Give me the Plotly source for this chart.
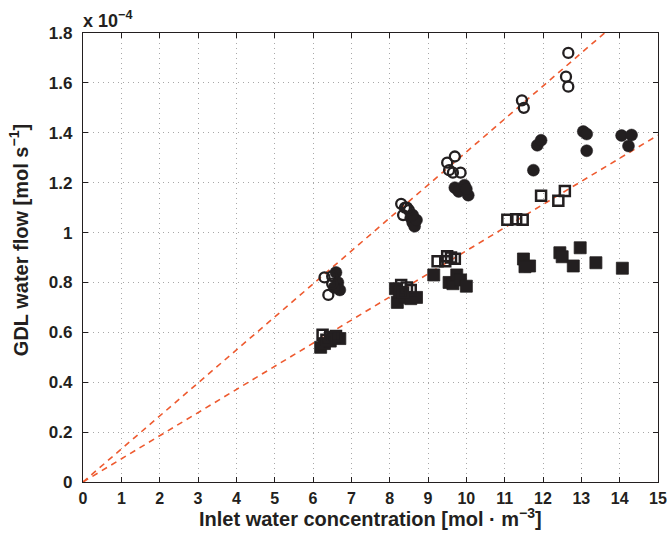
import plotly.graph_objects as go

# y values in units of 1e-4 mol/s
open_circle_x = [6.3, 6.5, 6.5, 6.4, 8.3, 8.35, 8.45, 8.5, 8.4, 9.5, 9.55, 9.7, 9.85, 9.65, 11.45, 11.5, 12.66, 12.6, 12.66]
open_circle_y = [0.82, 0.825, 0.795, 0.75, 1.115, 1.07, 1.10, 1.09, 1.10, 1.28, 1.25, 1.305, 1.24, 1.24, 1.53, 1.50, 1.72, 1.625, 1.585]

filled_circle_x = [6.6, 6.65, 6.7, 6.55, 8.55, 8.6, 8.65, 8.7, 8.6, 9.7, 9.8, 9.95, 10.05, 10.0, 11.85, 11.95, 11.75, 13.05, 13.14, 13.14, 14.05, 14.31, 14.23]
filled_circle_y = [0.84, 0.80, 0.77, 0.78, 1.06, 1.04, 1.025, 1.05, 1.07, 1.18, 1.165, 1.19, 1.15, 1.175, 1.35, 1.37, 1.25, 1.405, 1.395, 1.328, 1.389, 1.391, 1.347]

open_square_x = [6.25, 6.45, 6.6, 6.35, 8.3, 8.45, 8.55, 8.35, 9.25, 9.45, 9.5, 9.7, 9.6, 11.07, 11.3, 11.47, 11.95, 12.4, 12.57]
open_square_y = [0.59, 0.58, 0.585, 0.57, 0.79, 0.78, 0.77, 0.76, 0.885, 0.885, 0.905, 0.895, 0.90, 1.051, 1.053, 1.051, 1.148, 1.128, 1.167]

filled_square_x = [6.2, 6.3, 6.45, 6.7, 6.55, 8.15, 8.2, 8.4, 8.55, 8.7, 8.25, 9.15, 9.55, 9.65, 9.75, 9.85, 10.0, 11.49, 11.65, 11.53, 12.44, 12.5, 12.79, 12.97, 13.38, 14.07]
filled_square_y = [0.54, 0.555, 0.565, 0.575, 0.58, 0.775, 0.72, 0.74, 0.735, 0.74, 0.76, 0.83, 0.80, 0.795, 0.83, 0.81, 0.785, 0.894, 0.866, 0.863, 0.919, 0.903, 0.866, 0.939, 0.879, 0.857]

fit_slopes = [0.1323, 0.0927]
line_x = [0, 15]

x_ticks = list(range(0, 16))
y_ticks = [0, 0.2, 0.4, 0.6, 0.8, 1.0, 1.2, 1.4, 1.6, 1.8]
y_tick_labels = ["0", "0.2", "0.4", "0.6", "0.8", "1", "1.2", "1.4", "1.6", "1.8"]

x_title = "Inlet water concentration [mol · m<sup>−3</sup>]"
y_title = "GDL water flow [mol s<sup>−1</sup>]"
exponent_label = "x 10<sup>−4</sup>"

FONT = "Liberation Sans, Arial, sans-serif"
INK = "#231F20"

fig = go.Figure()

for s in fit_slopes:
    fig.add_trace(go.Scatter(x=line_x, y=[s * v for v in line_x], mode="lines",
                             line=dict(color="#EE5A2F", width=1.6, dash="6px,5px"),
                             showlegend=False, hoverinfo="skip"))

fig.add_trace(go.Scatter(x=filled_square_x, y=filled_square_y, mode="markers",
                         marker=dict(symbol="square", size=12, color=INK,
                                     line=dict(color=INK, width=0.8)), showlegend=False))
fig.add_trace(go.Scatter(x=open_square_x, y=open_square_y, mode="markers",
                         marker=dict(symbol="square-open", size=10, color=INK,
                                     line=dict(color=INK, width=2.5)), showlegend=False))
fig.add_trace(go.Scatter(x=filled_circle_x, y=filled_circle_y, mode="markers",
                         marker=dict(symbol="circle", size=12, color=INK,
                                     line=dict(color=INK, width=0.5)), showlegend=False))
fig.add_trace(go.Scatter(x=open_circle_x, y=open_circle_y, mode="markers",
                         marker=dict(symbol="circle-open", size=10, color=INK,
                                     line=dict(color=INK, width=2.3)), showlegend=False))

axis_common = dict(showline=True, linecolor=INK, linewidth=1.2, mirror="ticks",
                   ticks="inside", ticklen=5, tickcolor=INK, tickwidth=1,
                   showgrid=True, gridcolor="#a8a8a8", griddash="1px,4px", gridwidth=1.2,
                   zeroline=False, automargin=False)

fig.update_xaxes(range=[0, 15], tickvals=x_ticks, ticktext=["<b>%d</b>" % t for t in x_ticks],
                 ticklabelstandoff=2, tickfont=dict(family=FONT, size=16, color=INK),
                 **axis_common)
fig.update_yaxes(range=[0, 1.8], tickvals=y_ticks, ticktext=["<b>%s</b>" % t for t in y_tick_labels],
                 ticklabelstandoff=6, tickfont=dict(family=FONT, size=17, color=INK),
                 **axis_common)

fig.add_annotation(x=0.5, y=-0.078, xref="paper", yref="paper", xanchor="center", yanchor="middle",
                   text="<b>%s</b>" % x_title, showarrow=False,
                   font=dict(family=FONT, size=20, color=INK))
fig.add_annotation(x=-0.111, y=0.539, xref="paper", yref="paper", xanchor="center", yanchor="middle",
                   text="<b>%s</b>" % y_title, showarrow=False, textangle=-90,
                   font=dict(family=FONT, size=20, color=INK))
fig.add_annotation(x=0, y=1.0, xref="paper", yref="paper", xanchor="left", yanchor="bottom",
                   text="<b>%s</b>" % exponent_label, showarrow=False, xshift=-2,
                   font=dict(family=FONT, size=18, color=INK))

fig.update_layout(width=667, height=545, margin=dict(l=83, r=9, t=33, b=63),
                  plot_bgcolor="white", paper_bgcolor="white")

fig.write_html("out.html")
